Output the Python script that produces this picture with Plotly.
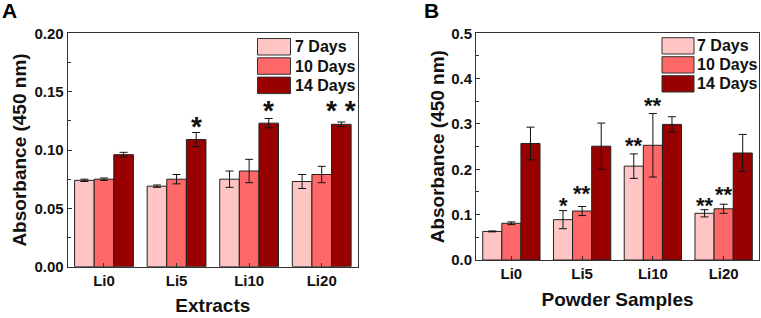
import plotly.graph_objects as go

W, H = 761, 318

categories = ["Li0", "Li5", "Li10", "Li20"]
series_names = ["7 Days", "10 Days", "14 Days"]
colors = ["#FFC4C4", "#FF6868", "#990000"]

# Panel A: Extracts
a_7 = [0.074, 0.069, 0.075, 0.073]
a_7_err = [0.001, 0.001, 0.007, 0.006]
a_10 = [0.075, 0.075, 0.082, 0.079]
a_10_err = [0.001, 0.004, 0.010, 0.007]
a_14 = [0.096, 0.109, 0.123, 0.122]
a_14_err = [0.002, 0.006, 0.004, 0.002]

# Panel B: Powder samples
b_7 = [0.063, 0.089, 0.207, 0.103]
b_7_err = [0.001, 0.020, 0.027, 0.008]
b_10 = [0.081, 0.108, 0.253, 0.113]
b_10_err = [0.003, 0.010, 0.070, 0.010]
b_14 = [0.257, 0.251, 0.299, 0.236]
b_14_err = [0.036, 0.051, 0.017, 0.041]

# significance markers
a_star_cat = ["Li5", "Li10", "Li20"]
a_star_series = [2, 2, 2]
a_star_text = ["*", "*", "* *"]
a_star_y = [0.123, 0.137, 0.137]

b_star_cat = ["Li5", "Li5", "Li10", "Li10", "Li20", "Li20"]
b_star_series = [0, 1, 0, 1, 0, 1]
b_star_text = ["*", "**", "**", "**", "**", "**"]
b_star_y = [0.126, 0.152, 0.259, 0.347, 0.127, 0.151]

BARGAP = 0.19
FONT = "Liberation Sans, Arial, sans-serif"
FRAME = "#333333"

fig = go.Figure()

panels = [
    ("x", "y", [a_7, a_10, a_14], [a_7_err, a_10_err, a_14_err]),
    ("x2", "y2", [b_7, b_10, b_14], [b_7_err, b_10_err, b_14_err]),
]
for xa, ya, vals, errs in panels:
    for i in range(3):
        fig.add_trace(go.Bar(
            x=categories, y=vals[i], name=series_names[i],
            marker=dict(color=colors[i], line=dict(color="#222222", width=1)),
            error_y=dict(type="data", array=errs[i], color="#111111",
                         thickness=1, width=4),
            xaxis=xa, yaxis=ya, showlegend=False,
        ))

def px_x(p):
    return p / W

def px_y(p):
    return 1 - p / H

annotations = []
shapes = []

bw = (1 - BARGAP) / 3
def star_annots(cats, series, texts, ys, xref, yref, size):
    for c, s, t, y in zip(cats, series, texts, ys):
        xpos = categories.index(c) + (s - 1) * bw
        annotations.append(dict(
            x=xpos, y=y, xref=xref, yref=yref, text=t, showarrow=False,
            xanchor="center", yanchor="middle", yshift=-size * 0.12,
            font=dict(family=FONT, size=size, color="#111111", weight="bold"),
        ))

star_annots(a_star_cat, a_star_series, a_star_text, a_star_y, "x", "y", 28)
star_annots(b_star_cat, b_star_series, b_star_text, b_star_y, "x2", "y2", 22)

# custom legends
def legend(box_x0, box_x1, row_top, stride, box_h, text_x):
    for i, name in enumerate(series_names):
        top = row_top + i * stride
        shapes.append(dict(
            type="rect", xref="paper", yref="paper",
            x0=px_x(box_x0), x1=px_x(box_x1),
            y0=px_y(top + box_h), y1=px_y(top),
            fillcolor=colors[i], line=dict(color="#333333", width=1),
        ))
        annotations.append(dict(
            x=px_x(text_x), y=px_y(top + box_h / 2), xref="paper", yref="paper",
            text=name, showarrow=False, xanchor="left", yanchor="middle",
            font=dict(family=FONT, size=16, color="#111111", weight="bold"),
        ))

legend(257.5, 290.5, 38.5, 19.3, 16.5, 293)
legend(662, 694, 37.7, 19.0, 16.3, 695)

# panel letters
annotations.append(dict(x=px_x(0), y=px_y(-3), xref="paper", yref="paper",
                        text="A", showarrow=False, xanchor="left", yanchor="top",
                        font=dict(family=FONT, size=21, color="#000", weight="bold")))
annotations.append(dict(x=px_x(422), y=px_y(-3), xref="paper", yref="paper",
                        text="B", showarrow=False, xanchor="left", yanchor="top",
                        font=dict(family=FONT, size=21, color="#000", weight="bold")))

tickfont = dict(family=FONT, size=15, color="#111111", weight="bold")
titlefont = dict(family=FONT, size=19, color="#111111", weight="bold")

common_x = dict(type="category", showline=True, mirror=True, linecolor=FRAME,
                linewidth=1, ticks="inside", ticklen=4, tickcolor=FRAME,
                tickfont=tickfont, showgrid=False, range=[-0.5, 3.5],
                automargin=False)
common_y = dict(showline=True, mirror=True, linecolor=FRAME, linewidth=1,
                ticks="inside", ticklen=4, tickcolor=FRAME, tickfont=tickfont,
                showgrid=False, zeroline=False, automargin=False)

fig.update_layout(
    width=W, height=H, margin=dict(l=0, r=0, t=0, b=0),
    paper_bgcolor="white", plot_bgcolor="white",
    barmode="group", bargap=BARGAP, bargroupgap=0,
    showlegend=False,
    xaxis=dict(**common_x, domain=[67.7 / W, 358 / W], anchor="y",
               title=dict(text="Extracts", font=titlefont, standoff=10)),
    yaxis=dict(**common_y, domain=[1 - 266.7 / H, 1 - 33.3 / H], anchor="x",
               range=[0, 0.2], dtick=0.05, tickformat=".2f",
               minor=dict(ticks="inside", ticklen=3, dtick=0.025, tickcolor=FRAME),
               title=dict(text="Absorbance (450 nm)", font=titlefont, standoff=2)),
    xaxis2=dict(**common_x, domain=[476 / W, 759 / W], anchor="y2",
                title=dict(text="Powder Samples", font=titlefont, standoff=11)),
    yaxis2=dict(**common_y, domain=[1 - 260 / H, 1 - 33.3 / H], anchor="x2",
                range=[0, 0.5], dtick=0.1, tickformat=".1f",
                minor=dict(ticks="inside", ticklen=3, dtick=0.05, tickcolor=FRAME),
                title=dict(text="Absorbance (450 nm)", font=titlefont, standoff=1)),
    annotations=annotations, shapes=shapes,
)

fig.write_html("out.html", config={"displayModeBar": False},
               post_script="document.body.style.margin='0';document.body.style.overflow='hidden';")
